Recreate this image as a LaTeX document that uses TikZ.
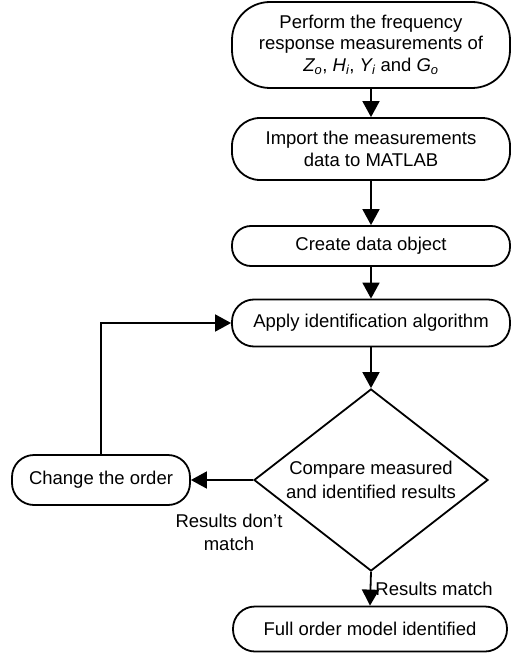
\documentclass[tikz,border=0pt]{standalone}
\usepackage{fontspec}
\setmainfont{Liberation Sans}
\usepackage{tikz}
\usetikzlibrary{shapes.geometric, arrows.meta, positioning}

\begin{document}
\begin{tikzpicture}[x=1pt, y=-1pt, line width=1.8pt,
    stepbox/.style={draw, rounded corners=22pt, minimum width=278pt, align=center, font=\fontsize{18.5}{21.5}\selectfont, inner sep=2pt},
    decide/.style={draw, diamond, minimum width=234pt, minimum height=182pt, inner xsep=-40pt, inner ysep=-15pt, align=center, font=\fontsize{18.5}{24}\selectfont},
    arr/.style={-{Triangle[length=16pt,width=17pt]}},
    lbl/.style={font=\fontsize{18.5}{23}\selectfont, align=center, inner sep=0pt}]
    \useasboundingbox (0,0) rectangle (511,658);

    \node[stepbox, rounded corners=38pt, minimum height=86pt] (measure) at (371,45) {Perform the frequency\\response measurements of\\\textit{Z\textsubscript{o}}, \textit{H\textsubscript{i}}, \textit{Y\textsubscript{i}} and \textit{G\textsubscript{o}}};
    \node[stepbox, rounded corners=28pt, minimum height=62pt] (import) at (371,149) {Import the measurements\\data to MATLAB};
    \node[stepbox, rounded corners=19pt, minimum height=40pt] (create) at (371,246) {Create data object};
    \node[stepbox, minimum height=47pt] (apply) at (371,323) {Apply identification algorithm};
    \node[decide] (compare) at (371,480) {Compare measured\\and identified results};
    \node[stepbox, minimum width=178pt, minimum height=50pt] (change) at (101,480) {Change the order};
    \node[stepbox, minimum width=274pt, minimum height=45pt] (full) at (370,629) {Full order model identified};

    \draw[arr] (measure) -- (import);
    \draw[arr] (import) -- (create);
    \draw[arr] (create) -- (apply);
    \draw[arr] (apply) -- (compare);
    \draw[arr] (compare.west) -- (change.east);
    \draw[arr] (change.north) |- (apply.west);
    \draw[arr] (compare.south) -- (full.north) node[lbl, midway, right=4pt] {Results match};

    \node[lbl] (nomatch) at (229,532) {Results don't\\match};
\end{tikzpicture}
\end{document}
